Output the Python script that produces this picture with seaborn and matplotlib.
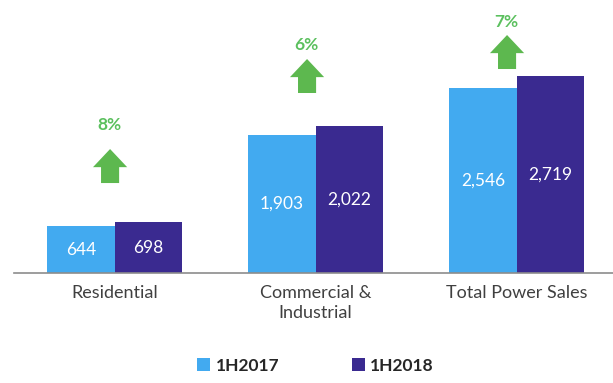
import numpy as np
import pandas as pd
import seaborn as sns
import matplotlib.pyplot as plt
from matplotlib.patches import FancyArrow

categories = ["Residential", "Commercial &\nIndustrial", "Total Power Sales"]
periods = ["1H2017", "1H2018"]
sales_2017 = [644, 1903, 2546]
sales_2018 = [698, 2022, 2719]

# layout of the growth arrows (data units)
arrow_shift = [-0.022, -0.042, -0.047]
arrow_base = [1241, 2483, 2814]
pct_y = [2041, 3145, 3462]

df = pd.DataFrame({
    "category": categories * 2,
    "period": [periods[0]] * 3 + [periods[1]] * 3,
    "value": sales_2017 + sales_2018,
})

sns.set_style("white")
plt.rcParams["font.family"] = ["Lato", "DejaVu Sans"]

fig = plt.figure(figsize=(6.13, 3.83), dpi=100)
ax = fig.add_axes([14 / 613, 110 / 383, 603 / 613, 273 / 383])

colors = ["#42AAF0", "#3A2A90"]
sns.barplot(data=df, x="category", y="value", hue="period", palette=colors,
            width=0.67, saturation=1, linewidth=0, edgecolor="none", ax=ax)

for cont, vals in zip(ax.containers, [sales_2017, sales_2018]):
    ax.bar_label(cont, labels=["{:,}".format(v) for v in vals], label_type="center",
                 color="white", fontsize=12.5)

ax.set_xlim(-0.5, 2.5)
ax.set_ylim(0, 3766)
ax.set_yticks([])
ax.set_xlabel("")
ax.set_ylabel("")
for s in ["top", "right", "left"]:
    ax.spines[s].set_visible(False)
ax.spines["bottom"].set_color("#8c8c8c")
ax.spines["bottom"].set_linewidth(1.2)

ax.set_xticks([0, 1, 2])
ax.set_xticklabels(categories, fontsize=13, color="#404040", linespacing=1.25, va="top")
ax.tick_params(axis="x", which="major", length=0, pad=9)
ax.set_xticks([-0.5, 0.5, 1.5], minor=True)
ax.tick_params(axis="x", which="minor", length=5, width=1.2, color="#8c8c8c")

# growth arrows with percent labels
for i in range(3):
    growth = (sales_2018[i] - sales_2017[i]) / sales_2017[i] * 100
    x = i + arrow_shift[i]
    ax.add_patch(FancyArrow(x, arrow_base[i], 0, 469, width=0.09, head_width=0.17,
                            head_length=250, length_includes_head=True,
                            color="#5DB84F", lw=0))
    ax.text(x - 0.005, pct_y[i], "{:.0f}%".format(growth), ha="center", va="center",
            color="#5BC05E", fontsize=12.5, fontweight="bold")

handles, labels = ax.get_legend_handles_labels()
ax.legend_.remove()
fig.legend(handles, labels, loc="center", bbox_to_anchor=(0.515, 0.045), ncol=2,
           frameon=False, handlelength=0.75, handleheight=0.75, handletextpad=0.3,
           columnspacing=4.2, prop={"weight": "bold", "size": 12.5})

fig.savefig("out.png", dpi=100)
